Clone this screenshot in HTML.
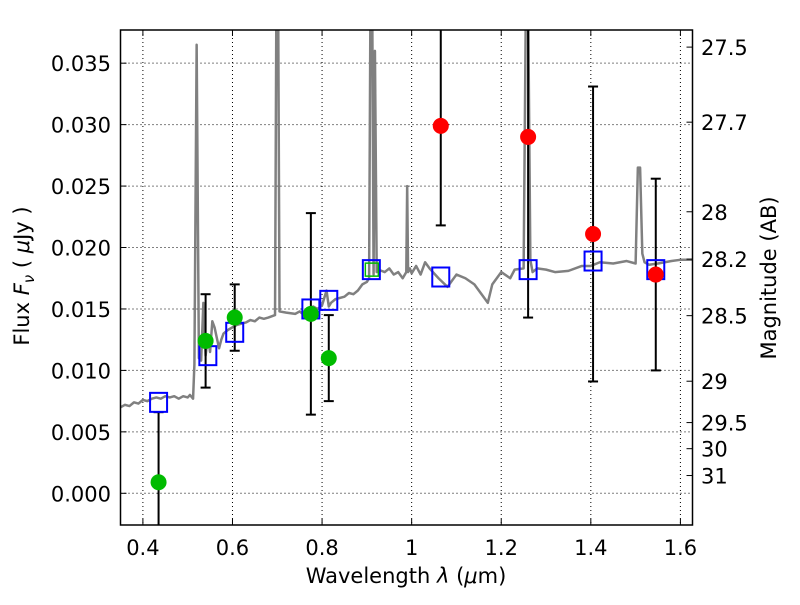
<!DOCTYPE html>
<html><head><meta charset="utf-8"><style>
body{margin:0;background:#fff}
svg text{font-family:"DejaVu Sans","Liberation Sans",sans-serif;fill:#000}
</style></head><body>
<svg id="chart" width="800" height="600" xmlns="http://www.w3.org/2000/svg">
<rect width="800" height="600" fill="#fff"/>
<g id="grid"></g><g id="spec"></g><g id="marks"></g><g id="axes"></g>
</svg>
<script>
const specX=[0.35,0.36,0.37,0.38,0.39,0.40,0.41,0.42,0.43,0.44,0.45,0.46,0.47,0.48,0.49,0.50,0.505,0.512,0.515,0.52,0.525,0.53,0.535,0.54,0.545,0.55,0.555,0.56,0.57,0.575,0.58,0.59,0.6,0.61,0.62,0.63,0.64,0.65,0.66,0.67,0.68,0.695,0.698,0.702,0.705,0.72,0.74,0.75,0.76,0.78,0.79,0.8,0.81,0.815,0.82,0.83,0.85,0.86,0.87,0.88,0.89,0.9,0.905,0.908,0.912,0.915,0.918,0.922,0.925,0.94,0.95,0.96,0.97,0.98,0.988,0.99,0.992,0.996,1.0,1.01,1.02,1.03,1.04,1.06,1.08,1.1,1.12,1.14,1.16,1.17,1.18,1.2,1.22,1.23,1.25,1.255,1.26,1.265,1.27,1.28,1.3,1.32,1.35,1.38,1.4,1.42,1.45,1.48,1.5,1.505,1.51,1.515,1.52,1.53,1.55,1.58,1.6,1.627];
const specY=[0.0070,0.0072,0.0071,0.0074,0.0073,0.0076,0.0075,0.0077,0.0078,0.0077,0.0079,0.0078,0.0079,0.0077,0.0079,0.0078,0.0080,0.0077,0.0105,0.0365,0.0110,0.0108,0.0155,0.0112,0.0128,0.0115,0.0140,0.0135,0.0118,0.0125,0.0130,0.0133,0.0135,0.0137,0.0138,0.0139,0.0141,0.0140,0.0143,0.0142,0.0143,0.0145,0.0400,0.0400,0.0148,0.0147,0.0146,0.0148,0.0145,0.0152,0.0150,0.0153,0.0165,0.0152,0.0155,0.0158,0.0160,0.0163,0.0162,0.0165,0.0170,0.0172,0.0175,0.0400,0.0400,0.0178,0.0360,0.0180,0.0182,0.0180,0.0183,0.0178,0.0180,0.0175,0.0180,0.0250,0.0180,0.0183,0.0179,0.0185,0.0178,0.0188,0.0183,0.0175,0.0168,0.0178,0.0175,0.0170,0.0160,0.0155,0.0170,0.0180,0.0175,0.0182,0.0183,0.0400,0.0400,0.0190,0.0180,0.0183,0.0182,0.0180,0.0181,0.0185,0.0185,0.0188,0.0187,0.0189,0.0187,0.0265,0.0265,0.0195,0.0188,0.0186,0.0187,0.0189,0.0190,0.0190];
const ptX=[0.435,0.54,0.605,0.775,0.815,1.065,1.26,1.405,1.545];
const ptY=[0.0009,0.0124,0.0143,0.0146,0.0110,0.0299,0.0290,0.0211,0.0178];
const ptErr=[0.0057,0.0038,0.0027,0.0082,0.0035,0.0081,0.0147,0.0120,0.0078];
const ptColor=['#00bb00','#00bb00','#00bb00','#00bb00','#00bb00','#ff0000','#ff0000','#ff0000','#ff0000'];
const boxX=[0.435,0.545,0.605,0.775,0.815,0.91,1.065,1.26,1.405,1.545];
const boxY=[0.0074,0.0112,0.0131,0.0150,0.0157,0.0182,0.0176,0.0182,0.0189,0.0182];
const xTicks=[0.4,0.6,0.8,1,1.2,1.4,1.6];
const yTicks=[0,0.005,0.010,0.015,0.020,0.025,0.030,0.035];
const magTicks=[27.5,27.7,28,28.2,28.5,29,29.5,30,31];
const L=120.5,R=692.5,T=30,B=525,X0=0.35,X1=1.627,Y0=-0.00258,Y1=0.0377;
const sx=v=>L+(v-X0)/(X1-X0)*(R-L);
const sy=v=>B-(v-Y0)/(Y1-Y0)*(B-T);
const NS='http://www.w3.org/2000/svg';
function mk(p,tag,at){const e=document.createElementNS(NS,tag);for(const k in at)e.setAttribute(k,at[k]);p.appendChild(e);return e;}
const grid=document.getElementById('grid'),spec=document.getElementById('spec'),marks=document.getElementById('marks'),axes=document.getElementById('axes');
xTicks.forEach(v=>{const l=mk(grid,'line',{x1:sx(v),x2:sx(v),y1:T,y2:B,stroke:'#000','stroke-width':1,'stroke-dasharray':'1,3'});


mk(axes,'line',{x1:sx(v),x2:sx(v),y1:B,y2:B-6,stroke:'#000'});mk(axes,'line',{x1:sx(v),x2:sx(v),y1:T,y2:T+6,stroke:'#000'});
const t=mk(axes,'text',{x:sx(v),y:555,'font-size':21,'text-anchor':'middle'});t.textContent=String(v);

});
yTicks.forEach(v=>{const l=mk(grid,'line',{x1:L,x2:R,y1:sy(v),y2:sy(v),stroke:'#000','stroke-width':1,'stroke-dasharray':'1,3'});


mk(axes,'line',{x1:L,x2:L+6,y1:sy(v),y2:sy(v),stroke:'#000'});
const t=mk(axes,'text',{x:111,y:sy(v)+8,'font-size':21,'text-anchor':'end'});t.textContent=v.toFixed(3);

});
magTicks.forEach(m=>{const f=Math.pow(10,(23.9-m)/2.5);const y=sy(f);
mk(axes,'line',{x1:R,x2:R-6,y1:y,y2:y,stroke:'#000'});
const t=mk(axes,'text',{x:701,y:y+8,'font-size':21});t.textContent=String(m);

});
const cp=mk(document.getElementById('chart'),'clipPath',{id:'cp'});mk(cp,'rect',{x:L,y:T,width:R-L,height:B-T});
spec.setAttribute('clip-path','url(#cp)');marks.setAttribute('clip-path','url(#cp)');
const sp=mk(spec,'polyline',{points:specX.map((x,i)=>sx(x)+','+sy(specY[i])).join(' '),fill:'none',stroke:'#808080','stroke-width':2.5,'stroke-linejoin':'round'});


ptX.forEach((x,i)=>{const X=sx(x),ya=sy(ptY[i]+ptErr[i]),yb=sy(ptY[i]-ptErr[i]);
const e=mk(marks,'line',{x1:X,x2:X,y1:ya,y2:yb,stroke:'#000','stroke-width':2});


mk(marks,'line',{x1:X-5,x2:X+5,y1:ya,y2:ya,stroke:'#000','stroke-width':2});mk(marks,'line',{x1:X-5,x2:X+5,y1:yb,y2:yb,stroke:'#000','stroke-width':2});});
boxX.forEach((x,i)=>{const b=mk(marks,'rect',{x:sx(x)-8.5,y:sy(boxY[i])-9.5,width:17,height:19,fill:'none',stroke:'#0000ff','stroke-width':2});

});
const g=mk(marks,'rect',{x:sx(0.91)-6,y:sy(0.0182)-6.5,width:13,height:13,fill:'none',stroke:'#00bb00','stroke-width':1.5});


ptX.forEach((x,i)=>{const c=mk(marks,'circle',{cx:sx(x),cy:sy(ptY[i]),r:8,fill:ptColor[i]});

});
const fr=mk(axes,'rect',{x:L,y:T,width:R-L,height:B-T,fill:'none',stroke:'#000','stroke-width':1.5});


const xl=mk(axes,'text',{x:406,y:583,'font-size':21,'text-anchor':'middle'});xl.innerHTML='Wavelength  <tspan font-style="italic">λ</tspan> (<tspan font-style="italic">μ</tspan>m)';


const yl=mk(axes,'text',{x:0,y:0,'font-size':21,'text-anchor':'middle',transform:'translate(29,276) rotate(-90)'});yl.innerHTML='Flux  <tspan font-style="italic">F</tspan><tspan font-style="italic" font-size="15" dy="5">ν</tspan><tspan dy="-5">  ( </tspan><tspan font-style="italic">μ</tspan>Jy )';


const ml=mk(axes,'text',{x:0,y:0,'font-size':21,'text-anchor':'middle',transform:'translate(776,278) rotate(-90)'});ml.textContent='Magnitude (AB)';


</script>
</body></html>
